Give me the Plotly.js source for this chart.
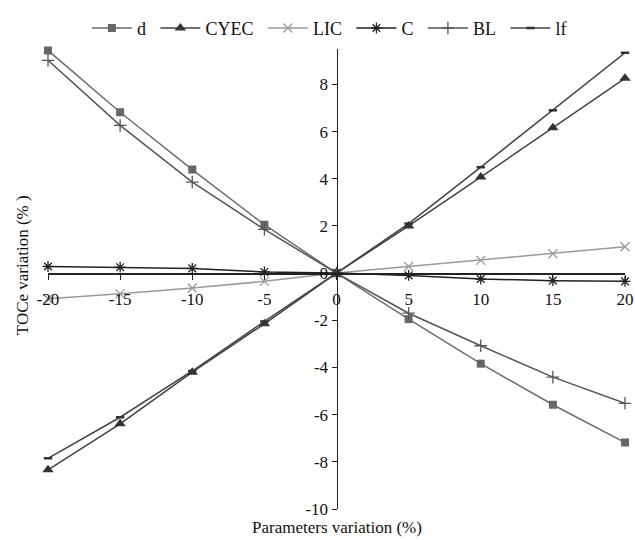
<!DOCTYPE html>
<html>
<head>
<meta charset="utf-8">
<script src="https://cdn.plot.ly/plotly-3.0.1.min.js"></script>
<style>html,body{margin:0;padding:0;background:#fff}#chart{width:635px;height:540px}</style>
</head>
<body>
<div id="chart"></div>
<script>
var paramVariation = [-20, -15, -10, -5, 0, 5, 10, 15, 20];
var seriesNames = ["d", "CYEC", "LIC", "C", "BL", "lf"];
var dVals    = [9.44, 6.82, 4.39, 2.05, 0, -1.95, -3.84, -5.58, -7.18];
var cyecVals = [-8.34, -6.39, -4.20, -2.15, 0, 2.00, 4.07, 6.16, 8.26];
var licVals  = [-1.09, -0.88, -0.63, -0.35, 0, 0.28, 0.54, 0.82, 1.12];
var cVals    = [0.28, 0.25, 0.20, 0.05, 0, -0.10, -0.25, -0.32, -0.35];
var blVals   = [9.02, 6.26, 3.86, 1.85, 0, -1.70, -3.08, -4.41, -5.52];
var lfVals   = [-7.85, -6.11, -4.15, -2.05, 0, 2.10, 4.49, 6.90, 9.34];
var xTicks = [-20, -15, -10, -5, 0, 5, 10, 15, 20];
var yTicks = [-10, -8, -6, -4, -2, 0, 2, 4, 6, 8];

var FONT = "Liberation Serif, Times New Roman, serif";
var styles = [
  {line: "#6e6e6e", mk: {symbol: "square", size: 8, color: "#666"}},
  {line: "#404040", mk: {symbol: "triangle-up", size: 10, color: "#333"}},
  {line: "#9a9a9a", mk: {symbol: "x-thin-open", size: 9, color: "#999", line: {width: 1.3, color: "#999"}}},
  {line: "#222222", mk: {symbol: "asterisk-open", size: 9, color: "#222", line: {width: 1.3, color: "#222"}}},
  {line: "#555555", mk: {symbol: "cross-thin-open", size: 9, color: "#555", line: {width: 1.3, color: "#555"}}},
  {line: "#444444", mk: {symbol: "line-ew-open", size: 6, color: "#333", line: {width: 2.5, color: "#333"}}}
];
var vals = [dVals, cyecVals, licVals, cVals, blVals, lfVals];
var traces = vals.map(function (v, i) {
  return {
    x: paramVariation, y: v, name: seriesNames[i] + "\u00a0", type: "scatter", mode: "lines+markers",
    line: {color: styles[i].line, width: 1.5},
    marker: styles[i].mk, cliponaxis: false
  };
});

var layout = {
  width: 635, height: 540,
  margin: {l: 48, r: 10, t: 42, b: 31},
  paper_bgcolor: "#fff", plot_bgcolor: "#fff",
  font: {family: FONT, size: 17, color: "#111"},
  showlegend: true,
  legend: {orientation: "h", x: 0.492, xanchor: "center", y: 1.045, yanchor: "middle",
           itemwidth: 40,
           font: {family: FONT, size: 18, color: "#111"}, bgcolor: "rgba(0,0,0,0)"},
  xaxis: {range: [-20, 20], anchor: "free", position: 10 / 19.5,
          tickvals: xTicks, ticktext: xTicks.map(String), ticks: "outside", ticklen: 5,
          tickcolor: "#222", showline: true, linecolor: "#222", linewidth: 1.5,
          showgrid: false, zeroline: false, ticklabelstandoff: 5,
          tickfont: {family: FONT, size: 17, color: "#111"}},
  yaxis: {range: [-10, 9.5], anchor: "free", position: 0.5,
          tickvals: yTicks, ticktext: yTicks.map(String), ticks: "outside", ticklen: 5,
          tickcolor: "#222", showline: true, linecolor: "#222", linewidth: 1.5,
          showgrid: false, zeroline: false,
          tickfont: {family: FONT, size: 17, color: "#111"}},
  annotations: [
    {text: "Parameters variation (%)", xref: "paper", yref: "paper", x: 0.5, y: 0, yshift: -18,
     xanchor: "center", yanchor: "middle", showarrow: false, font: {family: FONT, size: 17, color: "#111"}},
    {text: "TOCe variation (% )", xref: "paper", yref: "paper", x: 0, xshift: -26, y: 0.53,
     xanchor: "center", yanchor: "middle", textangle: -90, showarrow: false,
     font: {family: FONT, size: 17, color: "#111"}}
  ]
};
Plotly.newPlot("chart", traces, layout, {displayModeBar: false, staticPlot: true});
</script>
</body>
</html>
